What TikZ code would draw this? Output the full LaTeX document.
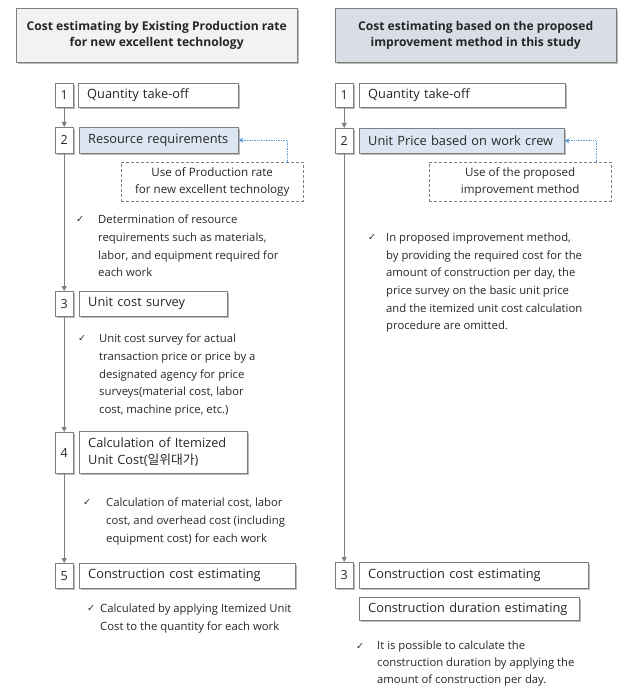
\documentclass[tikz,border=0pt]{standalone}
\usepackage{fontspec}
\setmainfont{Open Sans}
\newfontfamily\krfont{Noto Sans CJK KR}
\newfontfamily\symfont{DejaVu Sans}
\usetikzlibrary{shadows,arrows.meta}
\definecolor{bordergray}{HTML}{7F7F7F}
\definecolor{hdrgray}{HTML}{F2F2F2}
\definecolor{hdrblue}{HTML}{D9DEE6}
\definecolor{boxblue}{HTML}{DCE6F2}
\definecolor{arrowblue}{HTML}{5B9BD5}
\definecolor{textgray}{HTML}{262626}
\tikzset{
  shd/.style={drop shadow={shadow xshift=2pt,shadow yshift=-2pt,fill=black!45,opacity=0.6}},
  hdr/.style={draw=bordergray,shd,anchor=north west,align=center,font=\fontsize{12.1}{15.5}\selectfont\bfseries,inner sep=0pt},
  numbox/.style={draw=bordergray,fill=white,shd,anchor=north west,minimum width=18pt,inner sep=0pt,font=\fontsize{12.5}{14}\selectfont},
  lbl/.style={draw=bordergray,fill=white,shd,anchor=north west,inner xsep=9pt,inner ysep=0pt,align=left,font=\fontsize{12.8}{17}\selectfont},
  dbox/.style={draw=bordergray,dashed,dash pattern=on 3pt off 2pt,anchor=north west,align=center,inner sep=0pt,font=\fontsize{11.6}{17}\selectfont},
  btext/.style={anchor=north west,align=left,inner sep=0pt,font=\fontsize{11.3}{17.6}\selectfont},
  chk/.style={inner sep=0pt,font=\symfont\fontsize{9.5}{10}\selectfont},
  flow/.style={draw=bordergray,line width=0.8pt,-{Triangle[length=5pt,width=5pt]}},
  blink/.style={draw=arrowblue,densely dotted,line width=0.7pt,-{Stealth[length=5pt,width=5pt]}}
}
\begin{document}
\begin{tikzpicture}[x=1pt,y=-1pt,text=textgray]
\useasboundingbox (0,0) rectangle (619,687);
% headers
\node[hdr,fill=hdrgray,minimum width=281pt,minimum height=54pt] (hl) at (16,8)
  {Cost estimating by Existing Production rate\\for new excellent technology};
\node[hdr,fill=hdrblue,minimum width=281pt,minimum height=54pt] (hr) at (335,8)
  {Cost estimating based on the proposed\\improvement method in this study};
% left column
\node[numbox,minimum height=24pt] (l1n) at (55,83) {1};
\node[lbl,text width=142pt,minimum height=24pt] (l1) at (78,83) {\mbox{Quantity take-off}};
\node[numbox,minimum height=26pt] (l2n) at (55,127) {2};
\node[lbl,fill=boxblue,text width=141pt,minimum height=26pt] (l2) at (79,127) {\mbox{Resource requirements}};
\node[dbox,minimum width=182pt,minimum height=39pt] (l2d) at (121,162) {Use of Production rate\\for new excellent technology};
\coordinate (l2a) at (287,162);
\draw[blink] (l2a) |- (l2.east);
\node[chk] (c2) at (80,220) {✓};
\node[btext] (b2) at (98,215) {Determination of resource\\requirements such as materials,\\labor, and equipment required for\\each work};
\node[numbox,minimum height=25pt] (l3n) at (55,291) {3};
\node[lbl,text width=130pt,minimum height=25pt] (l3) at (79,291) {\mbox{Unit cost survey}};
\node[chk] (c3) at (82,339) {✓};
\node[btext] (b3) at (99,334) {Unit cost survey for actual\\transaction price or price by a\\designated agency for price\\surveys(material cost, labor\\cost, machine price, etc.)};
\node[numbox,minimum height=41pt] (l4n) at (55,432) {4};
\node[lbl,text width=150pt,minimum height=42pt] (l4) at (79,431) {\mbox{Calculation of Itemized}\\\mbox{Unit Cost({\krfont 일위대가})}};
\node[chk] (c4) at (87,503) {✓};
\node[btext] (b4) at (106,498) {Calculation of material cost, labor\\cost, and overhead cost (including\\equipment cost) for each work};
\node[numbox,minimum height=25pt] (l5n) at (55,563) {5};
\node[lbl,text width=198pt,minimum height=25pt] (l5) at (79,563) {\mbox{Construction cost estimating}};
\node[chk] (c5) at (91,609) {✓};
\node[btext] (b5) at (100,604) {Calculated by applying Itemized Unit\\Cost to the quantity for each work};
\draw[flow] (l1n) -- (l2n);
\draw[flow] (l2n) -- (l3n);
\draw[flow] (l3n) -- (l4n);
\draw[flow] (l4n) -- (l5n);
% right column
\node[numbox,minimum height=24pt] (r1n) at (335,83) {1};
\node[lbl,text width=188pt,minimum height=24pt] (r1) at (359,83) {\mbox{Quantity take-off}};
\node[numbox,minimum height=25pt] (r2n) at (335,128) {2};
\node[lbl,fill=boxblue,text width=187pt,minimum height=25pt] (r2) at (359,128) {\mbox{Unit Price based on work crew}};
\node[dbox,minimum width=182pt,minimum height=39pt] (r2d) at (429,162) {Use of the proposed\\improvement method};
\coordinate (r2a) at (596,162);
\draw[blink] (r2a) |- (r2.east);
\node[chk] (cr2) at (372,238) {✓};
\node[btext] (br2) at (386,233) {In proposed improvement method,\\by providing the required cost for the\\amount of construction per day, the\\price survey on the basic unit price\\and the itemized unit cost calculation\\procedure are omitted.};
\node[numbox,minimum height=26pt] (r3n) at (335,562) {3};
\node[lbl,text width=211pt,minimum height=26pt] (r3) at (359,562) {\mbox{Construction cost estimating}};
\node[lbl,text width=202pt,minimum height=23pt] (rd) at (359,597) {\mbox{Construction duration estimating}};
\node[chk] (cr3) at (360,646) {✓};
\node[btext,font=\fontsize{11.3}{17.1}\selectfont] (br3) at (377,641) {It is possible to calculate the\\construction duration by applying the\\amount of construction per day.};
\draw[flow] (r1n) -- (r2n);
\draw[flow] (r2n) -- (r3n);
\end{tikzpicture}
\end{document}
